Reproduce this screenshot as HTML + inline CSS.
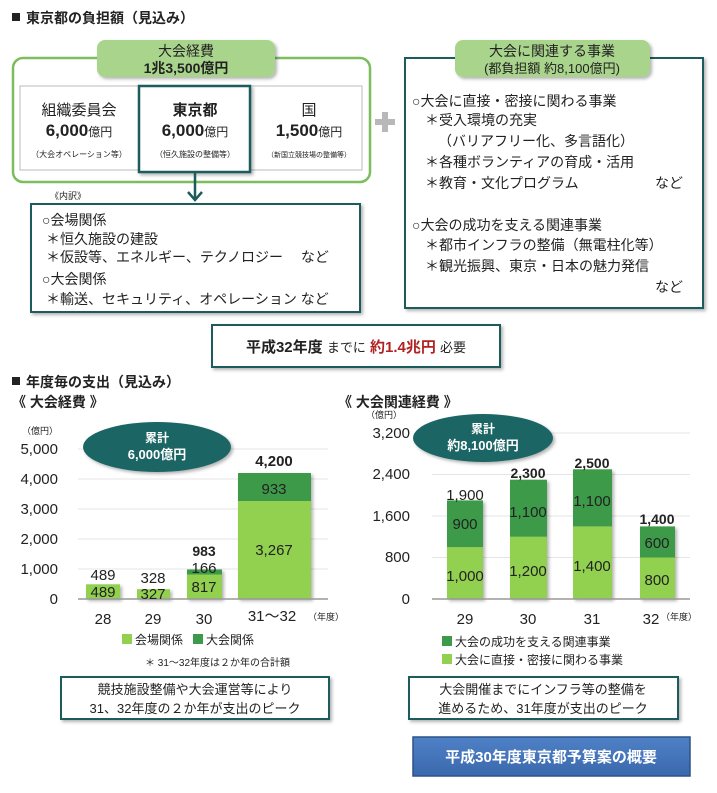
<!DOCTYPE html>
<html><head><meta charset="utf-8"><style>
html,body{margin:0;padding:0;background:#fff}
svg{display:block}
text{font-family:"Liberation Sans","Noto Sans CJK JP",sans-serif;fill:#222}
.b{font-weight:bold}
</style></head><body>
<svg width="717" height="793" viewBox="0 0 717 793" xmlns="http://www.w3.org/2000/svg">
<defs>
<filter id="sh" x="-10%" y="-10%" width="130%" height="130%"><feDropShadow dx="2" dy="2" stdDeviation="1.5" flood-color="#000" flood-opacity="0.3"/></filter>
<linearGradient id="bl" x1="0" y1="0" x2="0" y2="1"><stop offset="0" stop-color="#4f81c6"/><stop offset="1" stop-color="#3a68ad"/></linearGradient>
</defs>
<rect x="12" y="13" width="8" height="8" fill="#222"/>
<text x="26" y="23" font-size="14" class="b">東京都の負担額（見込み）</text>

<rect x="13" y="58" width="357" height="124" rx="10" fill="none" stroke="#7cbd5c" stroke-width="2.5"/>
<rect x="97" y="40" width="178" height="37" rx="8" fill="#a9d48c" filter="url(#sh)"/>
<text x="186" y="56" font-size="14" text-anchor="middle">大会経費</text>
<text x="186" y="73" font-size="14" text-anchor="middle" class="b">1兆3,500億円</text>

<rect x="20" y="86" width="342" height="84" fill="#fff" stroke="#bbb" stroke-width="1"/>
<text x="79" y="115" font-size="15" text-anchor="middle" fill="#333">組織委員会</text>
<text x="79" y="136" font-size="17" text-anchor="middle" class="b">6,000<tspan font-size="12" font-weight="normal">億円</tspan></text>
<text x="79" y="157" font-size="8" text-anchor="middle">（大会オペレーション等）</text>
<rect x="139" y="86" width="111" height="86" fill="#fff" stroke="#1e5b5b" stroke-width="2.5" filter="url(#sh)"/>
<text x="195" y="115" font-size="15" text-anchor="middle" class="b">東京都</text>
<text x="195" y="136" font-size="17" text-anchor="middle" class="b">6,000<tspan font-size="12" font-weight="normal">億円</tspan></text>
<text x="195" y="157" font-size="8" text-anchor="middle">（恒久施設の整備等）</text>
<text x="309" y="115" font-size="15" text-anchor="middle">国</text>
<text x="309" y="136" font-size="17" text-anchor="middle" class="b">1,500<tspan font-size="12" font-weight="normal">億円</tspan></text>
<text x="309" y="157" font-size="7" text-anchor="middle">（新国立競技場の整備等）</text>

<line x1="195" y1="172" x2="195" y2="199" stroke="#1e5b5b" stroke-width="2.5"/>
<polyline points="188,192 195,200 202,192" fill="none" stroke="#1e5b5b" stroke-width="2.5"/>
<text x="50" y="199" font-size="9">《内訳》</text>
<rect x="31" y="204" width="329" height="108" fill="#fff" stroke="#1e5b5b" stroke-width="2" filter="url(#sh)"/>
<text x="42" y="225" font-size="14">○会場関係</text>
<text x="46" y="244" font-size="14">＊恒久施設の建設</text>
<text x="46" y="262" font-size="14">＊仮設等、エネルギー、テクノロジー　 など</text>
<text x="42" y="284" font-size="14">○大会関係</text>
<text x="46" y="304" font-size="14">＊輸送、セキュリティ、オペレーション など</text>

<rect x="382" y="112" width="6" height="20" fill="#b8b8b8"/>
<rect x="375" y="119" width="20" height="6" fill="#b8b8b8"/>

<rect x="405" y="58" width="298" height="250" fill="#fff" stroke="#1e5b5b" stroke-width="2" filter="url(#sh)"/>
<rect x="455" y="40" width="195" height="37" rx="8" fill="#a9d48c" filter="url(#sh)"/>
<text x="552" y="56" font-size="14" text-anchor="middle">大会に関連する事業</text>
<text x="552" y="73" font-size="13" text-anchor="middle">(都負担額 約8,100億円)</text>
<text x="412" y="106" font-size="14">○大会に直接・密接に関わる事業</text>
<text x="425" y="125" font-size="14">＊受入環境の充実</text>
<text x="438" y="146" font-size="14">（バリアフリー化、多言語化）</text>
<text x="425" y="167" font-size="14">＊各種ボランティアの育成・活用</text>
<text x="425" y="188" font-size="14">＊教育・文化プログラム</text>
<text x="655" y="188" font-size="14">など</text>
<text x="412" y="230" font-size="14">○大会の成功を支える関連事業</text>
<text x="425" y="250" font-size="14">＊都市インフラの整備（無電柱化等）</text>
<text x="425" y="271" font-size="14">＊観光振興、東京・日本の魅力発信</text>
<text x="655" y="292" font-size="14">など</text>

<rect x="212" y="325" width="288" height="42" fill="#fff" stroke="#1e5b5b" stroke-width="2" filter="url(#sh)"/>
<text x="356" y="352" font-size="15" text-anchor="middle"><tspan class="b">平成32年度</tspan> <tspan font-size="13">までに</tspan> <tspan class="b" style="fill:#b22222">約1.4兆円</tspan> <tspan font-size="13">必要</tspan></text>

<rect x="12" y="377" width="8" height="8" fill="#222"/>
<text x="26" y="387" font-size="14" class="b">年度毎の支出（見込み）</text>
<text x="12" y="407" font-size="14" class="b">《 大会経費 》</text>
<text x="338" y="407" font-size="14" class="b">《 大会関連経費 》</text>

<text x="22" y="434" font-size="9">（億円）</text>
<g stroke="#e4e4e4" stroke-width="1">
<line x1="78" y1="449" x2="328" y2="449"/><line x1="78" y1="479" x2="328" y2="479"/><line x1="78" y1="509" x2="328" y2="509"/><line x1="78" y1="539" x2="328" y2="539"/><line x1="78" y1="569" x2="328" y2="569"/>
</g>
<g font-size="15" text-anchor="end">
<text x="58" y="454">5,000</text><text x="58" y="484">4,000</text><text x="58" y="514">3,000</text><text x="58" y="544">2,000</text><text x="58" y="574">1,000</text><text x="58" y="604">0</text>
</g>
<g filter="url(#sh)">
<rect x="86" y="584.3" width="34" height="14.7" fill="#92d050"/>
<rect x="137" y="589.2" width="33" height="9.8" fill="#92d050"/>
<rect x="187" y="574.5" width="35" height="24.5" fill="#92d050"/>
<rect x="187" y="569.5" width="35" height="5" fill="#3d9a4a"/>
<rect x="238" y="501" width="73" height="98" fill="#92d050"/>
<rect x="238" y="473" width="73" height="28" fill="#3d9a4a"/>
</g>
<line x1="78" y1="599" x2="328" y2="599" stroke="#999" stroke-width="1.5"/>
<g font-size="15" text-anchor="middle">
<text x="103" y="580">489</text><text x="103" y="597">489</text>
<text x="153" y="583">328</text><text x="153" y="599">327</text>
<text x="204" y="573">166</text><text x="204" y="592">817</text>
<text x="274" y="494">933</text><text x="274" y="555">3,267</text>
</g>
<text x="204" y="556" font-size="14" text-anchor="middle" class="b">983</text>
<text x="274" y="466" font-size="15" text-anchor="middle" class="b">4,200</text>
<ellipse cx="157" cy="447" rx="74" ry="25" fill="#1e6565" filter="url(#sh)"/>
<text x="157" y="442" font-size="12" text-anchor="middle" class="b" style="fill:#fff">累計</text>
<text x="157" y="459" font-size="13" text-anchor="middle" class="b" style="fill:#fff">6,000億円</text>
<g font-size="15" text-anchor="middle">
<text x="103" y="624">28</text><text x="153" y="624">29</text><text x="204" y="624">30</text><text x="272" y="621">31～32</text>
</g>
<text x="308" y="620" font-size="9">（年度）</text>
<rect x="122" y="634" width="10" height="10" fill="#92d050"/><text x="135" y="644" font-size="12">会場関係</text>
<rect x="193" y="634" width="10" height="10" fill="#3d9a4a"/><text x="206" y="644" font-size="12">大会関係</text>
<text x="145" y="666" font-size="10">＊ 31～32年度は２か年の合計額</text>

<text x="366" y="418" font-size="9">（億円）</text>
<g stroke="#e4e4e4" stroke-width="1">
<line x1="432" y1="433" x2="690" y2="433"/><line x1="432" y1="474.5" x2="690" y2="474.5"/><line x1="432" y1="516" x2="690" y2="516"/><line x1="432" y1="557.5" x2="690" y2="557.5"/>
</g>
<g font-size="15" text-anchor="end">
<text x="410" y="438">3,200</text><text x="410" y="479">2,400</text><text x="410" y="521">1,600</text><text x="410" y="562">800</text><text x="410" y="604">0</text>
</g>
<g filter="url(#sh)">
<rect x="447" y="547.1" width="36" height="51.9" fill="#92d050"/><rect x="447" y="500.4" width="36" height="46.7" fill="#3d9a4a"/>
<rect x="510" y="536.7" width="37" height="62.3" fill="#92d050"/><rect x="510" y="479.7" width="37" height="57" fill="#3d9a4a"/>
<rect x="573" y="526.4" width="39" height="72.6" fill="#92d050"/><rect x="573" y="469.3" width="39" height="57.1" fill="#3d9a4a"/>
<rect x="640" y="557.5" width="35" height="41.5" fill="#92d050"/><rect x="640" y="526.4" width="35" height="31.1" fill="#3d9a4a"/>
</g>
<line x1="432" y1="599" x2="690" y2="599" stroke="#999" stroke-width="1.5"/>
<g font-size="15" text-anchor="middle">
<text x="465" y="500">1,900</text><text x="465" y="529">900</text><text x="465" y="581">1,000</text>
<text x="528" y="517">1,100</text><text x="528" y="576">1,200</text>
<text x="592" y="506">1,100</text><text x="592" y="571">1,400</text>
<text x="657" y="548">600</text><text x="657" y="585">800</text>
</g>
<g font-size="14" text-anchor="middle" class="b">
<text x="528" y="478">2,300</text><text x="592" y="468">2,500</text><text x="657" y="524">1,400</text>
</g>
<ellipse cx="483" cy="438" rx="70" ry="24" fill="#1e6565" filter="url(#sh)"/>
<text x="483" y="433" font-size="12" text-anchor="middle" class="b" style="fill:#fff">累計</text>
<text x="483" y="450" font-size="13" text-anchor="middle" class="b" style="fill:#fff">約8,100億円</text>
<g font-size="15" text-anchor="middle">
<text x="465" y="624">29</text><text x="528" y="624">30</text><text x="592" y="624">31</text><text x="651" y="624">32</text>
</g>
<text x="661" y="620" font-size="9">（年度）</text>
<rect x="442" y="636" width="10" height="10" fill="#3d9a4a"/><text x="455" y="646" font-size="12">大会の成功を支える関連事業</text>
<rect x="442" y="654" width="10" height="10" fill="#92d050"/><text x="455" y="664" font-size="12">大会に直接・密接に関わる事業</text>

<rect x="61" y="677" width="268" height="42" fill="#fff" stroke="#1e5b5b" stroke-width="2" filter="url(#sh)"/>
<text x="195" y="694" font-size="13" text-anchor="middle">競技施設整備や大会運営等により</text>
<text x="195" y="713" font-size="13" text-anchor="middle">31、32年度の２か年が支出のピーク</text>
<rect x="409" y="677" width="269" height="42" fill="#fff" stroke="#1e5b5b" stroke-width="2" filter="url(#sh)"/>
<text x="543" y="694" font-size="13" text-anchor="middle">大会開催までにインフラ等の整備を</text>
<text x="543" y="713" font-size="13" text-anchor="middle">進めるため、31年度が支出のピーク</text>
<rect x="413" y="737" width="277" height="39" fill="url(#bl)" stroke="#2c5288" stroke-width="1.5"/>
<text x="551" y="762" font-size="15" text-anchor="middle" class="b" style="fill:#fff">平成30年度東京都予算案の概要</text>
</svg>
</body></html>
